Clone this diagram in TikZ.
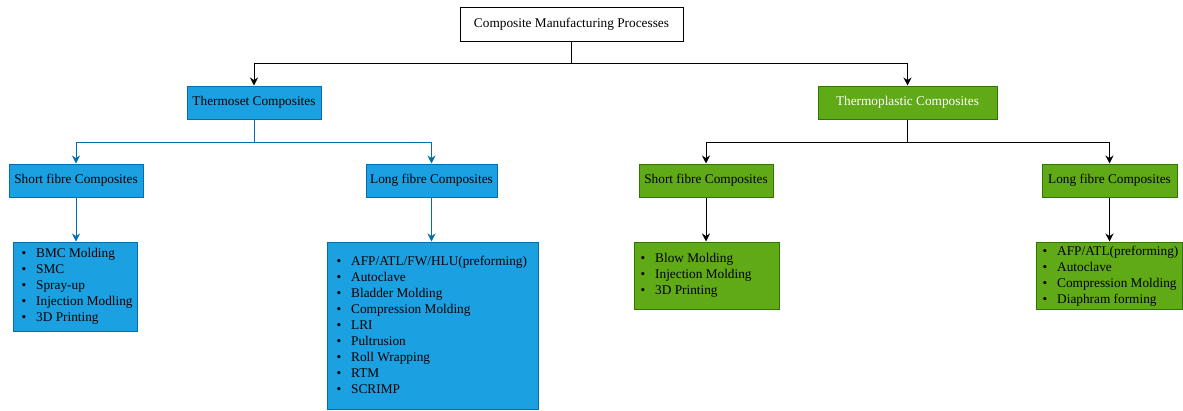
\documentclass[tikz,border=0pt]{standalone}
\usepackage{fontspec}
\setmainfont{Liberation Serif}
\usetikzlibrary{arrows.meta}
\definecolor{bfill}{HTML}{1BA1E2}
\definecolor{bline}{HTML}{006EAF}
\definecolor{gfill}{HTML}{60A917}
\definecolor{gline}{HTML}{2D7600}
\newcommand{\itm}[1]{\makebox[14.5pt][l]{\textbullet}#1}
\tikzset{
  box/.style={draw, line width=1pt, inner sep=0pt, minimum height=33pt, align=center},
  bluebox/.style={box, fill=bfill, draw=bline},
  greenbox/.style={box, fill=gfill, draw=gline},
  listtext/.style={inner sep=0pt, align=left, anchor=west},
  arr/.style={line width=1pt, -{Stealth[length=8pt,width=8pt]}},
  conn/.style={line width=1pt},
  bluearr/.style={arr, color=bline},
}
\begin{document}
\begin{tikzpicture}[x=1pt,y=-1pt,font=\fontsize{13.3}{16}\selectfont]
\useasboundingbox (0,0) rectangle (1183,410);
% top
\node[box, fill=white, minimum width=223pt, minimum height=34pt] (top) at (571.5,24) {Composite Manufacturing Processes};
% level 1
\node[bluebox, minimum width=134pt] (ts) at (254,102.5) {Thermoset Composites};
\node[greenbox, minimum width=179pt, text=white] (tp) at (907.5,102.5) {Thermoplastic Composites};
% level 2
\node[bluebox, minimum width=134pt] (tss) at (76,180.5) {Short fibre Composites};
\node[bluebox, minimum width=131pt] (tsl) at (431.5,180.5) {Long fibre Composites};
\node[greenbox, minimum width=134pt] (tps) at (706,180.5) {Short fibre Composites};
\node[greenbox, minimum width=135pt] (tpl) at (1109.5,180.5) {Long fibre Composites};
% lists
\node[bluebox, minimum width=124pt, minimum height=89pt] (tssL) at (75,286.5) {};
\node[listtext] (tssT) at ([xshift=9pt]tssL.west) {\itm{BMC Molding}\\\itm{SMC}\\\itm{Spray-up}\\\itm{Injection Modling}\\\itm{3D Printing}};
\node[bluebox, minimum width=211pt, minimum height=167pt] (tslL) at (432.5,325.5) {};
\node[listtext] (tslT) at ([xshift=10pt,yshift=1pt]tslL.west) {\itm{AFP/ATL/FW/HLU(preforming)}\\\itm{Autoclave}\\\itm{Bladder Molding}\\\itm{Compression Molding}\\\itm{LRI}\\\itm{Pultrusion}\\\itm{Roll Wrapping}\\\itm{RTM}\\\itm{SCRIMP}};
\node[greenbox, minimum width=145pt, minimum height=67pt] (tpsL) at (706.5,275.5) {};
\node[listtext] (tpsT) at ([xshift=7pt]tpsL.west) {\itm{Blow Molding}\\\itm{Injection Molding}\\\itm{3D Printing}};
\node[greenbox, minimum width=146pt, minimum height=67pt] (tplL) at (1109,275.5) {};
\node[listtext] (tplT) at ([xshift=7pt,yshift=-1pt]tplL.west) {\itm{AFP/ATL(preforming)}\\\itm{Autoclave}\\\itm{Compression Molding}\\\itm{Diaphram forming}};
% connectors
\coordinate (j0) at (571.5,63);
\draw[conn] (top.south) -- (j0);
\draw[arr] (j0) -| (ts.north);
\draw[arr] (j0) -| (tp.north);
\coordinate (j1) at (254,142);
\draw[conn, color=bline] (ts.south) -- (j1);
\draw[bluearr] (j1) -| (tss.north);
\draw[bluearr] (j1) -| (tsl.north);
\coordinate (j2) at (907.5,142);
\draw[conn] (tp.south) -- (j2);
\draw[arr] (j2) -| (tps.north);
\draw[arr] (j2) -| (tpl.north);
\draw[bluearr] (tss.south) -- (tss.south |- tssL.north);
\draw[bluearr] (tsl.south) -- (tsl.south |- tslL.north);
\draw[arr] (tps.south) -- (tps.south |- tpsL.north);
\draw[arr] (tpl.south) -- (tpl.south |- tplL.north);
\end{tikzpicture}
\end{document}
